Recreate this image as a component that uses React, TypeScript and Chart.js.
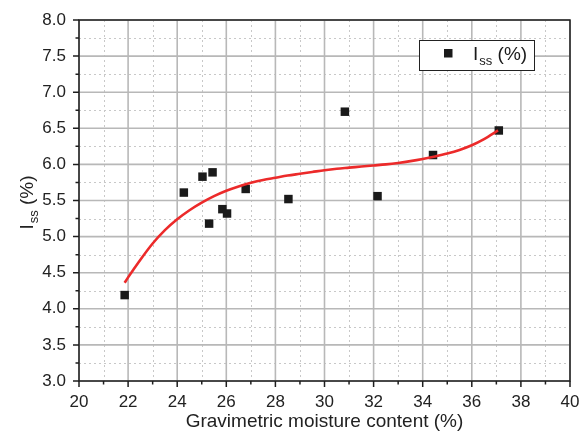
import React, { useEffect, useRef } from 'react';
import { Chart, registerables } from 'chart.js';

Chart.register(...registerables);

// Measured data (gravimetric moisture content %, I_ss %)
const moisture = [21.86, 24.27, 25.03, 25.44, 25.30, 25.84, 26.03, 26.79, 28.53, 30.83, 32.16, 34.42, 37.10];
const issValues = [4.19, 5.61, 5.83, 5.89, 5.18, 5.38, 5.32, 5.66, 5.52, 6.73, 5.56, 6.13, 6.47];

// Fitted curve
const fitX = [21.86, 22.0, 22.5, 23.0, 23.5, 24.0, 24.5, 25.0, 25.5, 26.0, 26.5, 27.0, 27.5, 28.0, 28.5, 29.0, 29.5, 30.0, 30.5, 31.0, 31.5, 32.0, 32.5, 33.0, 33.5, 34.0, 34.5, 35.0, 35.5, 36.0, 36.5, 37.07];
const fitY = [4.36, 4.435, 4.68, 4.905, 5.09, 5.24, 5.365, 5.47, 5.56, 5.635, 5.695, 5.745, 5.785, 5.815, 5.845, 5.87, 5.895, 5.92, 5.94, 5.955, 5.97, 5.985, 6.00, 6.02, 6.045, 6.075, 6.11, 6.15, 6.20, 6.265, 6.35, 6.47];

// Axis ticks
const xMajorTicks = [20, 22, 24, 26, 28, 30, 32, 34, 36, 38, 40];
const xMinorTicks = [21, 23, 25, 27, 29, 31, 33, 35, 37, 39];
const yMajorTicks = [3.0, 3.5, 4.0, 4.5, 5.0, 5.5, 6.0, 6.5, 7.0, 7.5, 8.0];
const yMinorTicks = [3.25, 3.75, 4.25, 4.75, 5.25, 5.75, 6.25, 6.75, 7.25, 7.75];

const xTitle = 'Gravimetric moisture content (%)';
const seriesMain = 'I';
const seriesSub = 'ss';
const seriesUnit = ' (%)';

const FONT = '"Liberation Sans", Arial, Helvetica, sans-serif';

function drawSubText(ctx: CanvasRenderingContext2D, x: number, y: number, big: number, small: number) {
  ctx.font = `${big}px ${FONT}`;
  ctx.fillText(seriesMain, x, y);
  let cx = x + ctx.measureText(seriesMain).width + 1;
  ctx.font = `${small}px ${FONT}`;
  ctx.fillText(seriesSub, cx, y + 5);
  cx += ctx.measureText(seriesSub).width;
  ctx.font = `${big}px ${FONT}`;
  ctx.fillText(seriesUnit, cx, y);
}

function subTextWidth(ctx: CanvasRenderingContext2D, big: number, small: number) {
  ctx.font = `${big}px ${FONT}`;
  let w = ctx.measureText(seriesMain).width + 1 + ctx.measureText(seriesUnit).width;
  ctx.font = `${small}px ${FONT}`;
  w += ctx.measureText(seriesSub).width;
  return w;
}

const decorPlugin = {
  id: 'decor',
  beforeDatasetsDraw(chart: any) {
    const { ctx, chartArea: a, scales } = chart;
    const xs = scales.x, ys = scales.y;
    ctx.save();
    // minor grid (dotted)
    ctx.strokeStyle = '#c8c8c8';
    ctx.lineWidth = 1;
    ctx.setLineDash([2, 3]);
    ctx.beginPath();
    xMinorTicks.forEach((v) => {
      const p = Math.round(xs.getPixelForValue(v)) + 0.5;
      ctx.moveTo(p, a.top); ctx.lineTo(p, a.bottom);
    });
    yMinorTicks.forEach((v) => {
      const p = Math.round(ys.getPixelForValue(v)) + 0.5;
      ctx.moveTo(a.left, p); ctx.lineTo(a.right, p);
    });
    ctx.stroke();
    // major grid (solid)
    ctx.setLineDash([]);
    ctx.strokeStyle = '#b8b8b8';
    ctx.lineWidth = 1.6;
    ctx.beginPath();
    xMajorTicks.forEach((v) => {
      const p = xs.getPixelForValue(v);
      ctx.moveTo(p, a.top); ctx.lineTo(p, a.bottom);
    });
    yMajorTicks.forEach((v) => {
      const p = ys.getPixelForValue(v);
      ctx.moveTo(a.left, p); ctx.lineTo(a.right, p);
    });
    ctx.stroke();
    ctx.restore();
  },
  afterDraw(chart: any) {
    const { ctx, chartArea: a, scales } = chart;
    const xs = scales.x, ys = scales.y;
    ctx.save();
    // frame
    ctx.strokeStyle = '#1e1e1e';
    ctx.lineWidth = 1.5;
    ctx.strokeRect(a.left, a.top, a.right - a.left, a.bottom - a.top);
    // ticks
    ctx.lineWidth = 1.5;
    ctx.beginPath();
    xMajorTicks.forEach((v) => {
      const p = xs.getPixelForValue(v);
      ctx.moveTo(p, a.bottom); ctx.lineTo(p, a.bottom + 6);
    });
    xMinorTicks.forEach((v) => {
      const p = xs.getPixelForValue(v);
      ctx.moveTo(p, a.bottom); ctx.lineTo(p, a.bottom + 3.5);
    });
    yMajorTicks.forEach((v) => {
      const p = ys.getPixelForValue(v);
      ctx.moveTo(a.left, p); ctx.lineTo(a.left - 6, p);
    });
    yMinorTicks.forEach((v) => {
      const p = ys.getPixelForValue(v);
      ctx.moveTo(a.left, p); ctx.lineTo(a.left - 3.5, p);
    });
    ctx.stroke();

    ctx.fillStyle = '#222';
    // x title
    ctx.font = `19px ${FONT}`;
    ctx.textAlign = 'center';
    ctx.textBaseline = 'alphabetic';
    ctx.fillText(xTitle, (a.left + a.right) / 2, a.bottom + 46);

    // y title (rotated, with subscript)
    ctx.textAlign = 'left';
    const w = subTextWidth(ctx, 19, 13);
    ctx.save();
    ctx.translate(33, (a.top + a.bottom) / 2 + 2);
    ctx.rotate(-Math.PI / 2);
    drawSubText(ctx, -w / 2, 0, 19, 13);
    ctx.restore();

    // legend box
    const bx = a.right - 151, by = a.top + 20, bw = 115, bh = 30;
    ctx.fillStyle = '#ffffff';
    ctx.fillRect(bx, by, bw, bh);
    ctx.strokeStyle = '#222';
    ctx.lineWidth = 1;
    ctx.strokeRect(bx + 0.5, by + 0.5, bw, bh);
    ctx.fillStyle = '#1a1a1a';
    ctx.fillRect(bx + 25, by + 9, 8.5, 8.5);
    drawSubText(ctx, bx + 54, by + 20, 19, 13);
    ctx.restore();
  },
};

const zeroPad = (s: any) => {
  s.paddingLeft = 0;
  s.paddingRight = 0;
  s.paddingTop = 0;
  s.paddingBottom = 0;
};

export default function App() {
  const ref = useRef<HTMLCanvasElement | null>(null);
  useEffect(() => {
    document.body.style.margin = '0';
    const canvas = ref.current!;
    const chart = new Chart(canvas, {
      type: 'scatter',
      data: {
        datasets: [
          {
            label: 'Iss (%)',
            data: moisture.map((x, i) => ({ x, y: issValues[i] })),
            pointStyle: 'rect',
            pointRadius: 6,
            pointHoverRadius: 6,
            backgroundColor: '#1a1a1a',
            borderWidth: 0,
            order: 2,
          },
          {
            type: 'line',
            label: 'fit',
            data: fitX.map((x, i) => ({ x, y: fitY[i] })),
            borderColor: '#ec2a2a',
            borderWidth: 2.6,
            pointRadius: 0,
            showLine: true,
            fill: false,
            cubicInterpolationMode: 'monotone',
            order: 1,
          } as any,
        ],
      },
      options: {
        responsive: false,
        animation: false,
        events: [],
        layout: { padding: { top: 20, right: 9, left: 0, bottom: 0 } },
        plugins: { legend: { display: false }, tooltip: { enabled: false } },
        scales: {
          x: {
            type: 'linear',
            min: 20,
            max: 40,
            grid: { display: false },
            border: { display: false },
            ticks: {
              stepSize: 2,
              padding: 3,
              color: '#222',
              font: { family: FONT, size: 17 },
              maxRotation: 0,
              callback: (v: any) => String(v),
            },
            afterFit: (s: any) => { s.height = 51; zeroPad(s); },
          },
          y: {
            type: 'linear',
            min: 3,
            max: 8,
            grid: { display: false },
            border: { display: false },
            ticks: {
              stepSize: 0.5,
              padding: 5,
              color: '#222',
              font: { family: FONT, size: 17 },
              callback: (v: any) => Number(v).toFixed(1),
            },
            afterFit: (s: any) => { s.width = 79; zeroPad(s); },
          },
        },
      },
      plugins: [decorPlugin],
    });
    return () => chart.destroy();
  }, []);
  return <canvas ref={ref} width={579} height={432} style={{ display: 'block' }} />;
}
